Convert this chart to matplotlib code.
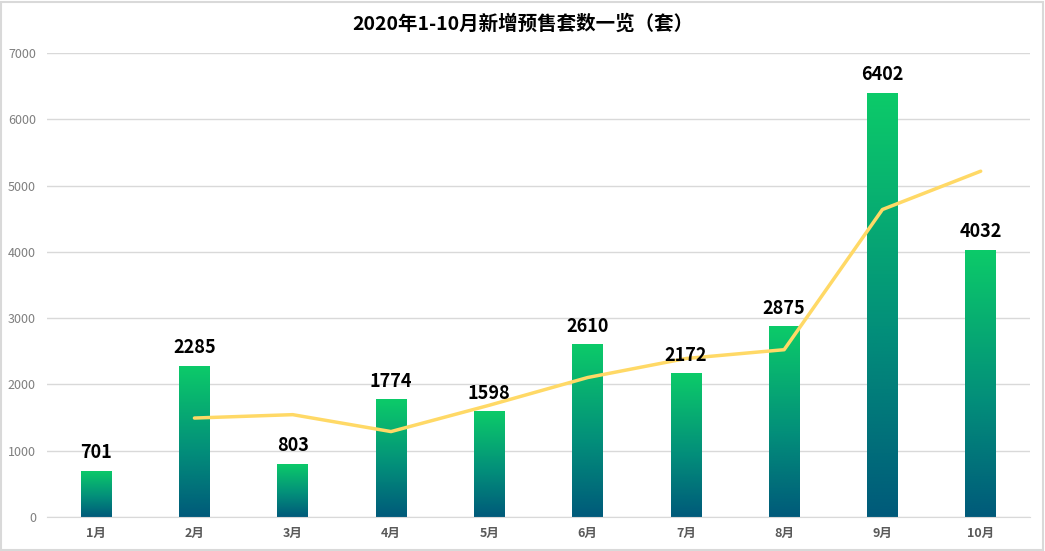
import numpy as np
import matplotlib
matplotlib.use("Agg")
import matplotlib.pyplot as plt
from matplotlib.colors import LinearSegmentedColormap
from matplotlib.patches import Rectangle

plt.rcParams['font.family'] = ['Noto Sans CJK SC', 'DejaVu Sans']

# Data
months = ['1月', '2月', '3月', '4月', '5月', '6月', '7月', '8月', '9月', '10月']
presale = [701, 2285, 803, 1774, 1598, 2610, 2172, 2875, 6402, 4032]
# trend line (starts at 2月)
trend_months = months[1:]
trend = [1493, 1544, 1289, 1686, 2104, 2391, 2524, 4639, 5217]

fig = plt.figure(figsize=(10.45, 5.51), dpi=100)
ax = fig.add_axes([0.045, 0.0617, 0.9405, 0.8421])

x = np.arange(len(months))
bars = ax.bar(x, presale, width=0.31, color='none', edgecolor='none', zorder=2)

# vertical gradient: dark teal at bottom, green at top
cmap = LinearSegmentedColormap.from_list(
    'g', [(0, '#005a7a'), (0.45, '#03907a'), (1, '#0ccb69')])
grad = np.linspace(0, 1, 256).reshape(-1, 1)
for b in bars:
    x0, w, h = b.get_x(), b.get_width(), b.get_height()
    im = ax.imshow(grad, cmap=cmap, origin='lower', aspect='auto',
                   extent=[x0, x0 + w, 0, h], zorder=2)
    im.set_clip_path(b)

xt = [months.index(m) for m in trend_months]
ax.plot(xt, trend, color='#ffd966', linewidth=2.5, zorder=3,
        solid_joinstyle='round', solid_capstyle='round')

for xi, v in zip(x, presale):
    ax.annotate(str(v), (xi, v), xytext=(0, 6), textcoords='offset points',
                ha='center', va='bottom', fontsize=13, fontweight='bold',
                color='black', zorder=4)

ax.set_xlim(-0.5, len(months) - 0.5)
ax.set_ylim(0, 7000)
ax.set_yticks(range(0, 7001, 1000))
ax.set_xticks(x)
ax.set_xticklabels(months, fontsize=9, fontweight='bold', color='#595959')
ax.tick_params(axis='y', labelsize=9, labelcolor='#7f7f7f', length=0, pad=8)
ax.tick_params(axis='x', length=0, pad=7)
ax.grid(axis='y', color='#d9d9d9', linewidth=1)
ax.set_axisbelow(True)
for s in ['top', 'right', 'left']:
    ax.spines[s].set_visible(False)
ax.spines['bottom'].set_color('#d9d9d9')

fig.text(0.5, 0.957, '2020年1-10月新增预售套数一览（套）', ha='center', va='center',
         fontsize=14, fontweight='bold', color='black')

fig.patches.append(Rectangle((0.001, 0.002), 0.997, 0.995, transform=fig.transFigure,
                             fill=False, edgecolor='#d9d9d9', linewidth=1.5))

fig.savefig('out.png', dpi=100)
